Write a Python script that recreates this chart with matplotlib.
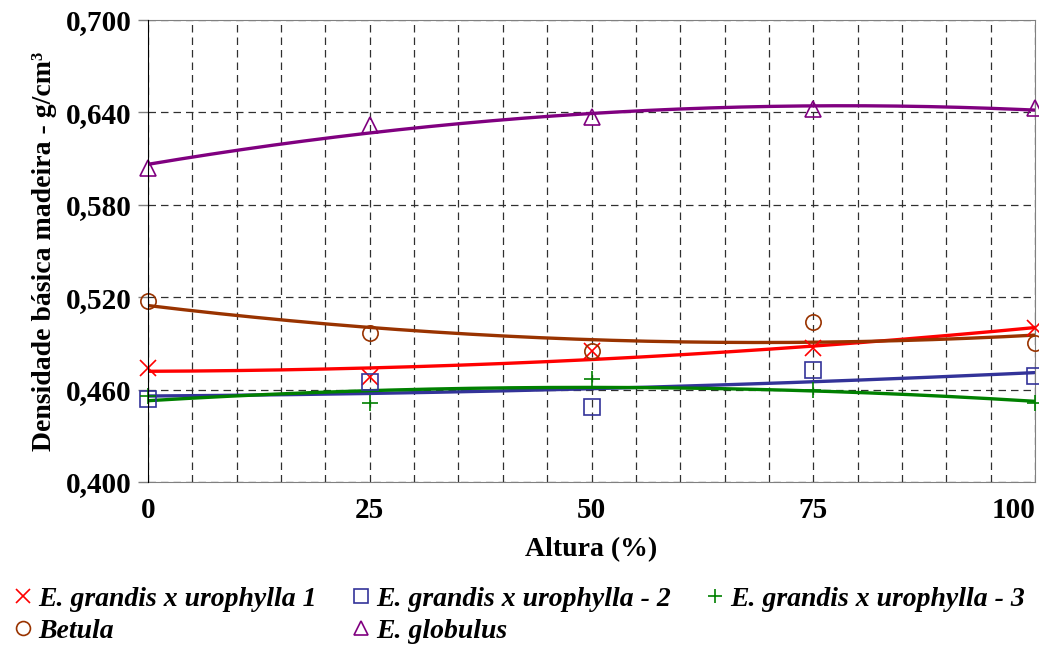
import numpy as np
import matplotlib
matplotlib.use('Agg')
import matplotlib.pyplot as plt
from matplotlib.ticker import FixedLocator, FuncFormatter

plt.rcParams['font.family'] = ['Liberation Serif', 'DejaVu Serif']

altura = [0, 25, 50, 75, 100]
egu1 = [0.474, 0.468, 0.485, 0.487, 0.500]
egu2 = [0.454, 0.465, 0.449, 0.473, 0.469]
egu3 = [0.456, 0.451, 0.467, 0.460, 0.451]
betula = [0.5175, 0.497, 0.485, 0.504, 0.490]
globulus = [0.604, 0.632, 0.637, 0.642, 0.643]

series = [
    ('E. grandis x urophylla 1', egu1, '#ff0000', 'x'),
    ('Betula', betula, '#993300', 'o'),
    ('E. grandis x urophylla - 2', egu2, '#333399', 's'),
    ('E. globulus', globulus, '#800080', '^'),
    ('E. grandis x urophylla - 3', egu3, '#008000', '+'),
]

fig = plt.figure(figsize=(10.39, 6.48), dpi=100)
ax = fig.add_axes([0.1424, 0.2562, 0.8538, 0.7129])

xs = np.linspace(0, 100, 200)
handles = []
for name, vals, col, mk in series:
    coef = np.polyfit(altura, vals, 2)
    ax.plot(xs, np.polyval(coef, xs), color=col, lw=2.4, zorder=3)
    h, = ax.plot(altura, vals, linestyle='none', marker=mk, markersize=11,
                 markerfacecolor='none', markeredgecolor=col, markeredgewidth=1.2,
                 clip_on=False, zorder=4, label=name)
    handles.append(h)

ax.set_xlim(0, 100)
ax.set_ylim(0.400, 0.700)
ax.set_yticks([0.400, 0.460, 0.520, 0.580, 0.640, 0.700])
ax.yaxis.set_major_formatter(FuncFormatter(lambda v, p: f'{v:.3f}'.replace('.', ',')))
ax.set_xticks([0, 25, 50, 75, 100])
ax.xaxis.set_minor_locator(FixedLocator(np.arange(0, 101, 5)))
ax.tick_params(axis='x', which='both', length=0, pad=11)
ax.tick_params(axis='y', length=7, width=1, color='#808080', pad=5)
for lab in ax.get_xticklabels() + ax.get_yticklabels():
    lab.set_fontsize(21)
    lab.set_fontweight('bold')
ax.get_xticklabels()[-1].set_horizontalalignment('right')

ax.grid(True, axis='x', which='both', linestyle=(0, (6, 4)), color='#303030', lw=0.9)
ax.grid(True, axis='y', which='major', linestyle=(0, (6, 4)), color='#303030', lw=0.9)

ax.spines['left'].set_color('black')
for s in ['top', 'right', 'bottom']:
    ax.spines[s].set_color('#808080')
ax.spines['left'].set_zorder(5)

ax.set_xlabel('Altura (%)', fontsize=20, fontweight='bold', labelpad=9)
ax.set_ylabel('Densidade básica madeira - g/cm³', fontsize=20, fontweight='bold', labelpad=6)

leg = fig.legend(handles=handles, ncol=3, loc='upper left', bbox_to_anchor=(0.003, 0.108),
                 frameon=False, handlelength=0.8, handletextpad=0.15, columnspacing=1.2,
                 labelspacing=0.25, prop={'size': 20, 'weight': 'bold', 'style': 'italic'},
                 borderaxespad=0, borderpad=0.3)
for h in leg.legend_handles:
    h.set_markersize(10)

fig.savefig('out.png', dpi=100)
